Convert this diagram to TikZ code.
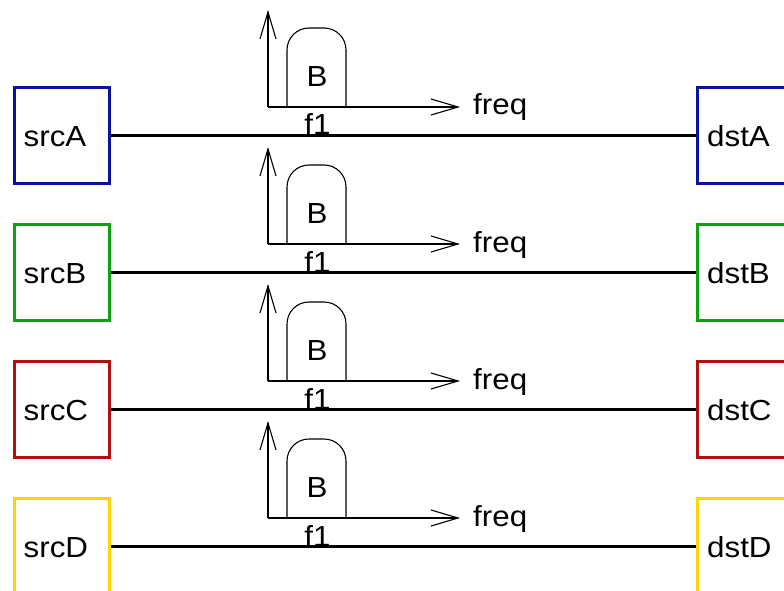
\documentclass[tikz,border=0pt]{standalone}
\usepackage{fontspec}
\setmainfont{Liberation Sans}[FakeStretch=1.08]
\usetikzlibrary{arrows.meta}
\definecolor{cA}{RGB}{16,16,160}
\definecolor{cB}{RGB}{16,160,16}
\definecolor{cC}{RGB}{176,16,16}
\definecolor{cD}{RGB}{255,215,0}
\begin{document}
\begin{tikzpicture}[x=1pt,y=-1pt,
 box/.style={draw, line width=3pt, minimum width=95pt, minimum height=96pt, inner sep=0pt},
 lbl/.style={font=\fontsize{29}{33}\selectfont, inner sep=0pt, anchor=base west},
 conn/.style={line width=2.6pt},
 axis/.style={line width=1.1pt, -{Straight Barb[length=27pt,width=16pt,line width=1.1pt]}},
 spec/.style={line width=1.1pt, rounded corners=22pt}]
\useasboundingbox (0,0) rectangle (784,591);
\clip (0,0) rectangle (784,591);
\foreach \n/\c [count=\i from 0] in {A/cA,B/cB,C/cC,D/cD}{
  \pgfmathsetmacro\yo{137*\i}
  \node[box, draw=\c] (src\n) at (62,{\yo+135.5}) {};
  \node[box, draw=\c] (dst\n) at (745,{\yo+135.5}) {};
  \node[lbl] (srct\n) at (23.5,{\yo+146.7}) {src\n};
  \node[lbl] (dstt\n) at (707,{\yo+146.7}) {dst\n};
  \draw[conn] (src\n.east) -- (dst\n.west);
  \coordinate (o\n) at (268,{\yo+107});
  \coordinate (v\n) at (268,{\yo+10});
  \coordinate (h\n) at (460,{\yo+107});
  \draw[axis] (o\n) -- (v\n);
  \draw[axis] (o\n) -- (h\n);
  \draw[spec] (287,{\yo+107}) -- (287,{\yo+28}) -- (346,{\yo+28}) -- (346,{\yo+107});
  \node[lbl, anchor=base] (b\n) at (317,{\yo+86.7}) {B};
  \node[lbl, anchor=base] (f\n) at (317.5,{\yo+135}) {f1};
  \node[lbl] (q\n) at (473,{\yo+115}) {freq};
}
\end{tikzpicture}
\end{document}
